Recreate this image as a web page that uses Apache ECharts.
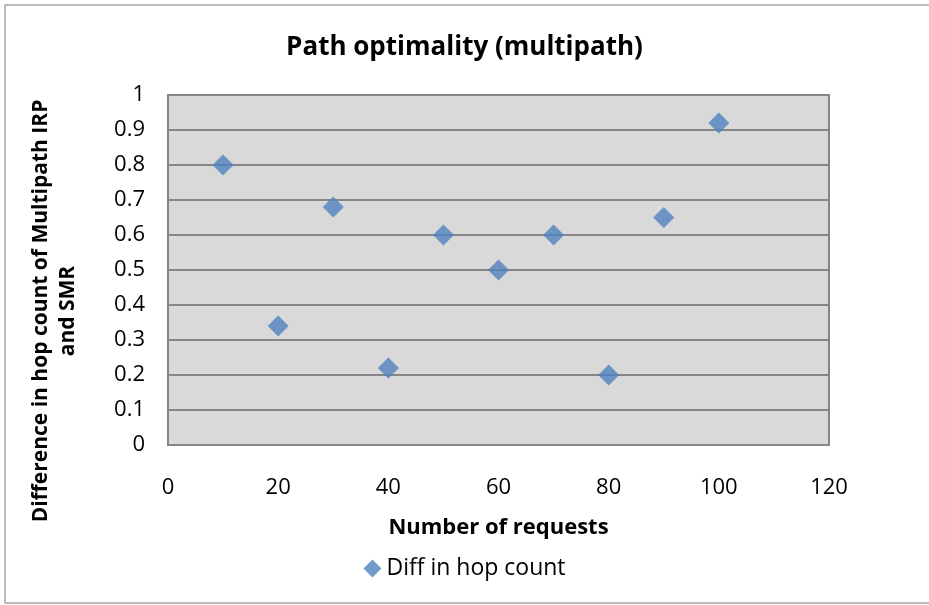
<!DOCTYPE html>
<html>
<head>
<meta charset="utf-8">
<script src="https://cdn.jsdelivr.net/npm/echarts@6/dist/echarts.min.js"></script>
<style>
  html, body { margin: 0; padding: 0; background: #fff; }
  #chart { width: 929px; height: 605px; }
</style>
</head>
<body>
<div id="chart"></div>
<script>
// data
const requests = [10, 20, 30, 40, 50, 60, 70, 80, 90, 100];
const hopDiff = [0.8, 0.34, 0.68, 0.22, 0.6, 0.5, 0.6, 0.2, 0.65, 0.92];
const seriesName = "Diff in hop count";

const font = "'Open Sans', 'Liberation Sans', sans-serif";
const chart = echarts.init(document.getElementById("chart"));

chart.setOption({
  animation: false,
  backgroundColor: "#fff",
  title: {
    text: "Path optimality (multipath)",
    left: "center",
    top: 30,
    textStyle: { fontFamily: font, fontSize: 26, fontWeight: "bold", color: "#000" }
  },
  legend: {
    top: 552,
    left: "center",
    itemWidth: 18,
    itemHeight: 18,
    itemGap: 4,
    textStyle: { fontFamily: font, fontSize: 23, color: "#000" },
    data: [{ name: seriesName, icon: "diamond" }]
  },
  grid: {
    left: 168, right: 100, top: 95, bottom: 160,
    outerBoundsMode: "none",
    show: true,
    backgroundColor: "#d9d9d9",
    borderColor: "#868686",
    borderWidth: 2
  },
  xAxis: {
    type: "value",
    min: 0,
    max: 120,
    interval: 20,
    name: "Number of requests",
    nameLocation: "middle",
    nameGap: 72,
    nameTextStyle: { fontFamily: font, fontSize: 22, fontWeight: "bold", color: "#000" },
    axisLine: { show: false },
    axisTick: { show: false },
    splitLine: { show: false },
    axisLabel: { fontFamily: font, fontSize: 22, color: "#000", margin: 32 }
  },
  yAxis: {
    type: "value",
    min: 0,
    max: 1,
    interval: 0.1,
    name: "Difference in hop count of Multipath IRP\nand SMR",
    nameLocation: "middle",
    nameGap: 86,
    nameTextStyle: {
      fontFamily: font, fontSize: 21, fontWeight: "bold", color: "#000",
      lineHeight: 27, padding: [0, 82, 0, 0]
    },
    axisLine: { show: false },
    axisTick: { show: false },
    splitLine: { show: true, lineStyle: { color: "#868686", width: 2 } },
    axisLabel: { fontFamily: font, fontSize: 22, color: "#000", margin: 23 }
  },
  graphic: [
    {
      type: "rect",
      shape: { x: 5, y: 5, width: 940, height: 598 },
      style: { fill: null, stroke: "#a6a6a6", lineWidth: 1.5 },
      silent: true
    }
  ],
  series: [
    {
      name: seriesName,
      type: "scatter",
      symbol: "diamond",
      symbolSize: 21,
      itemStyle: { color: "#4f81bd" },
      data: requests.map((x, i) => [x, hopDiff[i]])
    }
  ]
});
</script>
</body>
</html>
